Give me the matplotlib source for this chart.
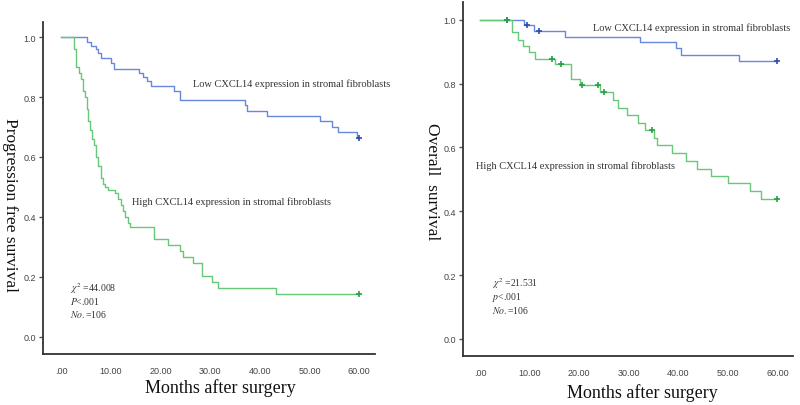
import matplotlib
matplotlib.use("Agg")
import matplotlib.pyplot as plt

# left panel: progression free survival (months, survival fraction)
pfs_low_t = [0, 5.3, 6.0, 7.0, 7.5, 8.0, 10.1, 10.7, 15.7, 16.4, 17.2, 18.1, 22.7, 23.9,
             37.0, 37.5, 41.4, 52.1, 54.6, 55.8, 59.5, 60]
pfs_low_s = [1.0, 0.984, 0.971, 0.96, 0.946, 0.929, 0.914, 0.893, 0.88, 0.866, 0.852, 0.838, 0.82, 0.79,
             0.772, 0.753, 0.737, 0.72, 0.70, 0.684, 0.665, 0.665]
pfs_high_t = [0, 2.5, 3.0, 3.7, 4.0, 4.5, 4.8, 5.2, 5.5, 5.9, 6.2, 6.6, 7.0, 7.4, 8.0, 8.5, 8.9,
              9.5, 10.9, 11.5, 12.0, 12.5, 12.9, 13.4, 13.9, 18.6, 21.6, 23.9, 24.6, 26.6, 28.3,
              30.3, 31.6, 43.3, 60]
pfs_high_s = [1.0, 0.96, 0.90, 0.88, 0.86, 0.82, 0.80, 0.76, 0.72, 0.69, 0.66, 0.64, 0.60, 0.57, 0.53,
              0.51, 0.50, 0.49, 0.48, 0.46, 0.44, 0.42, 0.40, 0.38, 0.366, 0.325, 0.305, 0.285, 0.265,
              0.245, 0.204, 0.184, 0.163, 0.143, 0.143]
pfs_low_cens_t, pfs_low_cens_s = [60], [0.665]
pfs_high_cens_t, pfs_high_cens_s = [60], [0.143]

# right panel: overall survival
os_low_t = [0, 8.8, 10.8, 17.2, 32.2, 39.6, 40.5, 52.2, 60]
os_low_s = [1.0, 0.984, 0.965, 0.946, 0.93, 0.911, 0.89, 0.872, 0.872]
os_high_t = [0, 6.4, 7.7, 8.7, 9.8, 11.1, 15.2, 18.3, 20.2, 24.2, 26.9, 27.9, 29.6, 31.9, 33.2,
             35.0, 35.8, 38.8, 41.6, 43.8, 46.6, 50.1, 54.4, 56.6, 60]
os_high_s = [1.0, 0.96, 0.937, 0.918, 0.898, 0.878, 0.862, 0.815, 0.794, 0.773, 0.747, 0.724, 0.702,
             0.678, 0.655, 0.63, 0.607, 0.583, 0.557, 0.533, 0.511, 0.487, 0.463, 0.438, 0.438]
os_low_cens_t = [5.4, 9.4, 11.8, 60]
os_low_cens_s = [1.0, 0.984, 0.965, 0.872]
os_high_cens_t = [5.4, 14.5, 16.4, 20.5, 23.7, 25.0, 34.7, 60]
os_high_cens_s = [1.0, 0.878, 0.862, 0.794, 0.794, 0.773, 0.655, 0.438]

xticks = [0, 10, 20, 30, 40, 50, 60]
xticklabels = [".00", "10.00", "20.00", "30.00", "40.00", "50.00", "60.00"]
yticks = [0.0, 0.2, 0.4, 0.6, 0.8, 1.0]
yticklabels = ["0.0", "0.2", "0.4", "0.6", "0.8", "1.0"]

blue = "#6688dd"
green = "#66c878"
blue_d = "#2b50b0"
green_d = "#2aa048"
txt = "#333333"
serif = ["Liberation Serif", "DejaVu Serif"]
plt.rcParams['mathtext.fontset'] = 'stix'

fig = plt.figure(figsize=(8, 4.06), dpi=100)
ax1 = fig.add_axes([0.054, 0.126, 0.415, 0.817])
ax2 = fig.add_axes([0.579, 0.121, 0.412, 0.872])


def style(ax, xlim, ylim):
    ax.set_xlim(*xlim)
    ax.set_ylim(*ylim)
    for s in ["top", "right"]:
        ax.spines[s].set_visible(False)
    for s in ["left", "bottom"]:
        ax.spines[s].set_color("#333333")
        ax.spines[s].set_linewidth(1.3)
    ax.set_xticks(xticks)
    ax.set_xticklabels(xticklabels, fontsize=6.5, color="#444444", family="Liberation Sans")
    ax.set_yticks(yticks)
    ax.set_yticklabels(yticklabels, fontsize=6.5, color="#444444", family="Liberation Sans")
    ax.tick_params(axis="x", length=0, pad=9)
    ax.tick_params(axis="y", length=3, width=1, color="#555555", pad=2)


def km(ax, t, s, ct, cs, c, cd):
    ax.plot(t, s, drawstyle="steps-post", color=c, lw=1.0)
    ax.plot(ct, cs, "+", color=cd, ms=5, mew=1.2, ls="none")


# left
km(ax1, pfs_low_t, pfs_low_s, pfs_low_cens_t, pfs_low_cens_s, blue, blue_d)
km(ax1, pfs_high_t, pfs_high_s, pfs_high_cens_t, pfs_high_cens_s, green, green_d)
style(ax1, (-3.6, 63.2), (-0.057, 1.05))
ax1.text(26.6, 0.846, "Low CXCL14 expression in stromal fibroblasts", fontsize=7.5,
         family=serif, color=txt, va="center")
ax1.text(14.3, 0.453, "High CXCL14 expression in stromal fibroblasts", fontsize=7.5,
         family=serif, color=txt, va="center")
ax1.text(1.8, 0.163, r"$\chi^2$ =44.008", fontsize=7, family=serif, color=txt, va="center")
ax1.text(1.8, 0.12, r"$P$<.001", fontsize=7, family=serif, color=txt, va="center")
ax1.text(1.8, 0.076, r"$No.$=106", fontsize=7, family=serif, color=txt, va="center")

# right
km(ax2, os_low_t, os_low_s, os_low_cens_t, os_low_cens_s, blue, blue_d)
km(ax2, os_high_t, os_high_s, os_high_cens_t, os_high_cens_s, green, green_d)
style(ax2, (-3.4, 63.1), (-0.053, 1.056))
ax2.text(22.8, 0.978, "Low CXCL14 expression in stromal fibroblasts", fontsize=7.5,
         family=serif, color=txt, va="center")
ax2.text(-0.8, 0.545, "High CXCL14 expression in stromal fibroblasts", fontsize=7.5,
         family=serif, color=txt, va="center")
ax2.text(2.4, 0.176, r"$\chi^2$ =21.531", fontsize=7, family=serif, color=txt, va="center")
ax2.text(2.4, 0.134, r"$p$<.001", fontsize=7, family=serif, color=txt, va="center")
ax2.text(2.4, 0.092, r"$No.$=106", fontsize=7, family=serif, color=txt, va="center")

# axis titles
fig.text(0.013, 0.495, "Progression free survival", rotation=270, fontsize=12.5,
         family=serif, color="#111111", ha="center", va="center")
fig.text(0.54, 0.553, "Overall  survival", rotation=270, fontsize=12.5,
         family=serif, color="#111111", ha="center", va="center")
fig.text(0.275, 1 - 388 / 406, "Months after surgery", fontsize=13,
         family=serif, color="#111111", ha="center", va="center")
fig.text(0.8025, 1 - 393 / 406, "Months after surgery", fontsize=13,
         family=serif, color="#111111", ha="center", va="center")

fig.savefig("out.png", dpi=100)
